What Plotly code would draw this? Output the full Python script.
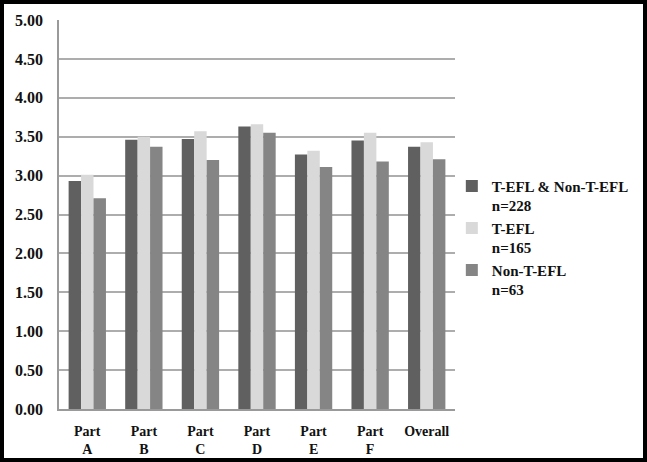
import plotly.graph_objects as go

categories = ["Part<br>A", "Part<br>B", "Part<br>C", "Part<br>D", "Part<br>E", "Part<br>F", "Overall"]
series_names = ["T-EFL & Non-T-EFL<br>n=228", "T-EFL<br>n=165", "Non-T-EFL<br>n=63"]
all_vals = [2.93, 3.46, 3.47, 3.63, 3.27, 3.45, 3.37]
tefl_vals = [3.01, 3.50, 3.57, 3.66, 3.32, 3.55, 3.43]
non_vals = [2.71, 3.37, 3.20, 3.55, 3.11, 3.18, 3.21]
y_ticks = [0, 0.5, 1, 1.5, 2, 2.5, 3, 3.5, 4, 4.5, 5]
y_ticklabels = ["%.2f" % v for v in y_ticks]

colors = ["#606060", "#d9d9d9", "#858585"]
W, H = 647, 462
L, R, T, B = 59, 647 - 455, 20, 462 - 409

FAM = "Liberation Serif"
TXT = "#111111"

fig = go.Figure()
for name, vals, c in zip(series_names, [all_vals, tefl_vals, non_vals], colors):
    fig.add_trace(go.Bar(x=categories, y=vals, name=name, marker=dict(color=c, line=dict(width=0))))

pw, ph = W - L - R, H - T - B
bw = 4
fig.add_shape(type="rect", xref="paper", yref="paper",
              x0=(-L + bw / 2) / pw, x1=(pw + R - bw / 2) / pw,
              y0=(-B + bw / 2) / ph, y1=(ph + T - bw / 2) / ph,
              line=dict(color="black", width=bw), layer="above")

fig.update_layout(
    width=W, height=H,
    margin=dict(l=L, r=R, t=T, b=B, autoexpand=False),
    paper_bgcolor="white", plot_bgcolor="white",
    barmode="group", bargap=0.34, bargroupgap=0,
    font=dict(family=FAM, color=TXT),
    legend=dict(x=0.992, y=0.615, xanchor="left", yanchor="top", valign="top",
                font=dict(family=FAM, size=15, color=TXT, weight="bold"),
                tracegroupgap=2, itemwidth=30, bgcolor="rgba(0,0,0,0)"),
    showlegend=True,
)
fig.update_yaxes(range=[0, 5], tickvals=y_ticks, ticktext=y_ticklabels,
                 showgrid=True, gridcolor="#adadad", gridwidth=1.5,
                 showline=True, linecolor="#9a9a9a", linewidth=1.5,
                 ticks="", ticklabelstandoff=11, zeroline=False, automargin=False,
                 tickfont=dict(family=FAM, size=16, color=TXT, weight="bold"))
fig.update_xaxes(showline=True, linecolor="#9a9a9a", linewidth=1.5,
                 ticks="", ticklabelstandoff=8, automargin=False,
                 tickfont=dict(family=FAM, size=14, color=TXT, weight="bold"))

fig.write_html("out.html")
